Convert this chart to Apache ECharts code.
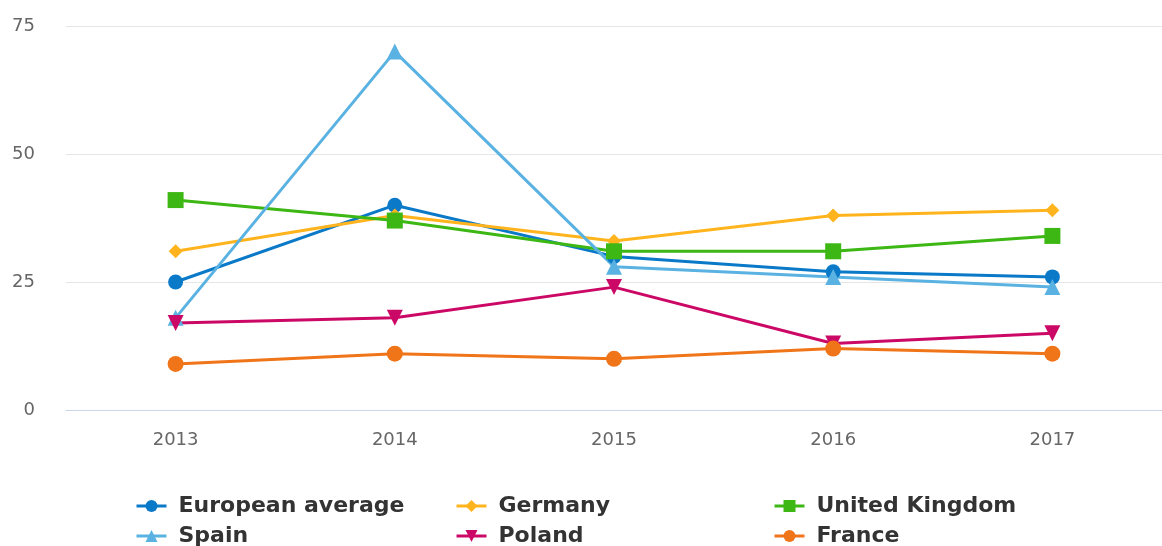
<!DOCTYPE html>
<html>
<head>
<meta charset="utf-8">
<script src="https://cdn.jsdelivr.net/npm/echarts@6/dist/echarts.min.js"></script>
<style>
  html, body { margin: 0; padding: 0; background: #fff; }
  #chart { width: 1162px; height: 546px; }
</style>
</head>
<body>
<div id="chart"></div>
<script>
const years = ['2013', '2014', '2015', '2016', '2017']

const europeanAverage = [25, 40, 30, 27, 26]
const germany = [31, 38, 33, 38, 39]
const unitedKingdom = [41, 37, 31, 31, 34]
const spain = [18, 70, 28, 26, 24]
const poland = [17, 18, 24, 13, 15]
const france = [9, 11, 10, 12, 11]

const yMin = 0
const yMax = 75
const yStep = 25

const chart = echarts.init(document.getElementById('chart'))

const makeLine = (name, data, color, symbol, size, extra) => Object.assign({
  name: name,
  type: 'line',
  data: data,
  symbol: symbol,
  symbolSize: size,
  showAllSymbol: true,
  lineStyle: { width: 3, color: color },
  itemStyle: { color: color },
  emphasis: { disabled: true },
  animation: false
}, extra || {})

const legendText = {
  fontFamily: 'DejaVu Sans',
  fontWeight: 'bold',
  fontSize: 22,
  color: '#333',
  padding: [0, 0, 0, 7]
}

// one legend per entry so the three columns line up like the original
const makeLegend = (name, left, top) => ({
  data: [name],
  left: left,
  top: top,
  itemWidth: 30,
  itemHeight: 15,
  padding: 0,
  selectedMode: false,
  lineStyle: { width: 3 },
  textStyle: legendText
})

const option = {
  backgroundColor: '#fff',
  grid: { left: 66, right: -8, top: 26, bottom: 136 },
  legend: [
    makeLegend('European average', 135, 495),
    makeLegend('Spain', 135, 525),
    makeLegend('Germany', 455, 495),
    makeLegend('Poland', 455, 525),
    makeLegend('United Kingdom', 773, 495),
    makeLegend('France', 773, 525)
  ],
  xAxis: {
    type: 'category',
    data: years,
    boundaryGap: true,
    axisLine: { lineStyle: { color: '#ccd6eb', width: 1 } },
    axisTick: { show: false },
    axisLabel: { color: '#666', fontSize: 18, fontFamily: 'DejaVu Sans', margin: 21 }
  },
  yAxis: {
    type: 'value',
    min: yMin,
    max: yMax,
    interval: yStep,
    axisLine: { show: false },
    axisTick: { show: false },
    splitLine: { lineStyle: { color: '#e6e6e6', width: 1 } },
    axisLabel: { color: '#666', fontSize: 18, fontFamily: 'DejaVu Sans', margin: 31 }
  },
  series: [
    makeLine('European average', europeanAverage, '#0a79c8', 'circle', 15),
    makeLine('Germany', germany, '#ffb41e', 'diamond', 14),
    makeLine('United Kingdom', unitedKingdom, '#3cb714', 'rect', 16),
    makeLine('Spain', spain, '#5ab2e2', 'triangle', 16),
    makeLine('Poland', poland, '#cc0866', 'triangle', 16, { symbolRotate: 180 }),
    makeLine('France', france, '#f07418', 'circle', 16)
  ]
}

chart.setOption(option)
</script>
</body>
</html>
